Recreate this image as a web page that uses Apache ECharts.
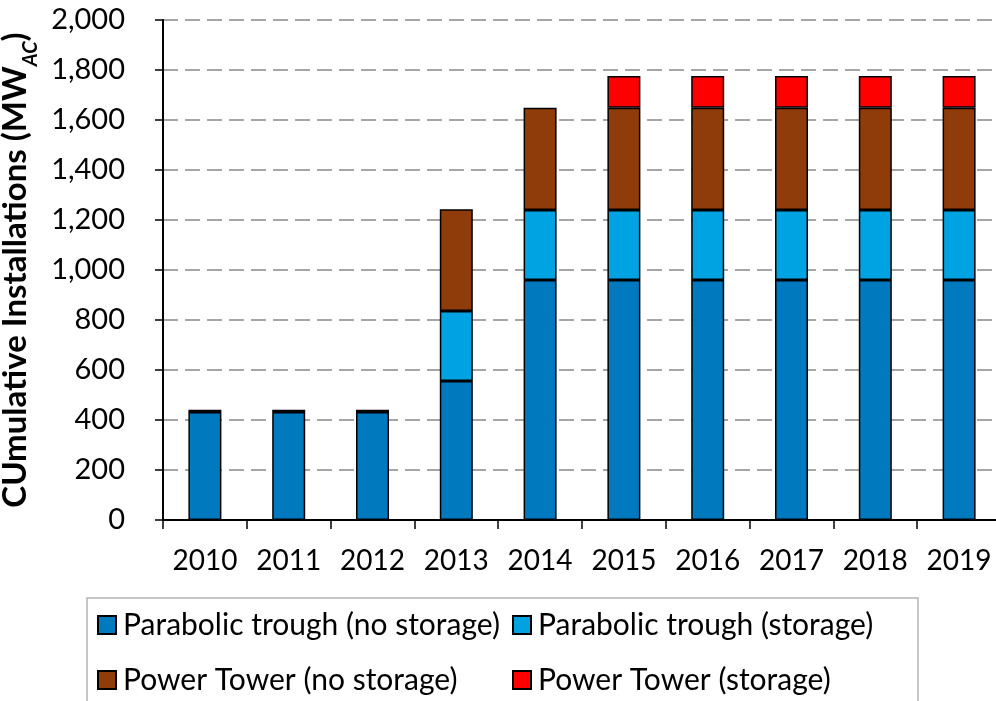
<!DOCTYPE html>
<html>
<head>
<meta charset="utf-8">
<script src="https://cdn.jsdelivr.net/npm/echarts@6/dist/echarts.min.js"></script>
<style>
  html, body { margin: 0; padding: 0; background: #fff; }
  #main { width: 996px; height: 701px; }
</style>
</head>
<body>
<div id="main"></div>
<script>
const years = ['2010', '2011', '2012', '2013', '2014', '2015', '2016', '2017', '2018', '2019'];
const troughNoStorage = [432, 432, 432, 556, 960, 960, 960, 960, 960, 960];
const troughStorage = [null, null, null, 280, 280, 280, 280, 280, 280, 280];
const towerNoStorage = [9, 9, 9, 407, 409, 409, 409, 409, 409, 409];
const towerStorage = [null, null, null, null, null, 127, 127, 127, 127, 127];
const yTicks = [0, 200, 400, 600, 800, 1000, 1200, 1400, 1600, 1800, 2000];

const seriesNames = [
  'Parabolic trough (no storage)',
  'Parabolic trough (storage)',
  'Power Tower (no storage)',
  'Power Tower (storage)'
];
const seriesColors = ['#0079bf', '#00a3e1', '#8f3b0a', '#ff0000'];

const FONT = 'Lato';

function makeSeries(i, data) {
  return {
    name: seriesNames[i],
    type: 'bar',
    stack: 'total',
    data: data,
    barWidth: 33,
    itemStyle: { color: seriesColors[i], borderColor: '#000', borderWidth: 1.5 }
  };
}

// one legend per entry so the two columns line up like the original
const legendSpots = [[92, 605], [507, 605], [92, 660], [507, 660]];
const legends = legendSpots.map((p, i) => ({
  left: p[0],
  top: p[1],
  icon: 'rect',
  itemWidth: 18,
  itemHeight: 18,
  selectedMode: false,
  data: [seriesNames[i]],
  textStyle: { fontFamily: FONT, fontSize: 30, lineHeight: 30, color: '#000', padding: [0, 0, 0, 2] }
}));

const chart = echarts.init(document.getElementById('main'), null, { renderer: 'canvas' });

chart.setOption({
  animation: false,
  grid: { left: 163, top: 20, right: -5, bottom: 181, containLabel: false, outerBoundsMode: 'none' },
  graphic: [{
    type: 'rect',
    shape: { x: 87, y: 598, width: 831, height: 130 },
    style: { fill: 'none', stroke: '#b4b4b4', lineWidth: 1.5 },
    silent: true
  }],
  legend: legends,
  xAxis: {
    type: 'category',
    data: years,
    axisLine: { lineStyle: { color: '#000', width: 2 } },
    axisTick: { show: true, interval: 0, length: 9, lineStyle: { color: '#000', width: 1.5 } },
    axisLabel: { interval: 0, fontFamily: FONT, fontSize: 28, color: '#000', margin: 27 }
  },
  yAxis: {
    type: 'value',
    min: yTicks[0],
    max: yTicks[yTicks.length - 1],
    interval: 200,
    name: '{a|CUmulative Installations (MW}{s|AC}{a|)}',
    nameLocation: 'middle',
    nameGap: 108,
    nameRotate: 90,
    nameTextStyle: {
      rich: {
        a: { fontFamily: FONT, fontSize: 33, fontWeight: 'bold', color: '#000', padding: [0, 0, 8, 0] },
        s: { fontFamily: FONT, fontSize: 20, fontWeight: 'bold', fontStyle: 'italic', color: '#000', verticalAlign: 'bottom' }
      }
    },
    axisLine: { show: true, lineStyle: { color: '#000', width: 2 } },
    axisTick: { show: true, length: 8, lineStyle: { color: '#000', width: 1.5 } },
    axisLabel: {
      fontFamily: FONT, fontSize: 29, color: '#000', margin: 38,
      formatter: v => v.toLocaleString('en-US')
    },
    splitLine: { lineStyle: { color: '#a6a6a6', width: 2, type: [15, 7] } }
  },
  series: [
    makeSeries(0, troughNoStorage),
    makeSeries(1, troughStorage),
    makeSeries(2, towerNoStorage),
    makeSeries(3, towerStorage)
  ]
});
</script>
</body>
</html>
